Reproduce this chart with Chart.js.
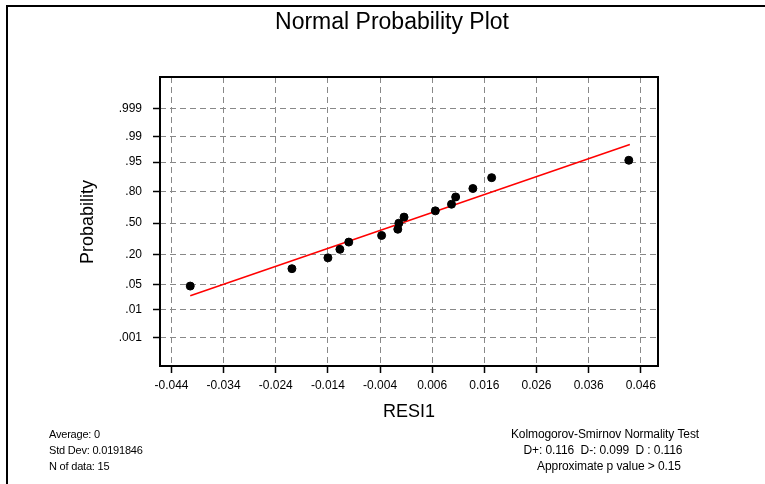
<!DOCTYPE html>
<html>
<head>
<meta charset="utf-8">
<script src="https://cdn.jsdelivr.net/npm/chart.js@4"></script>
<style>
  html, body { margin: 0; padding: 0; background: #fff; }
  canvas { display: block; }
</style>
</head>
<body>
<canvas id="npp" width="765" height="484"></canvas>
<script>
// residuals (RESI1) and their plotted probabilities
const resid = [-0.0404, -0.0209, -0.0140, -0.0117, -0.0100, -0.0037, -0.0006, -0.0004,
               0.0006, 0.0066, 0.0097, 0.0105, 0.0138, 0.0174, 0.0437];
const prob = [0.045, 0.11, 0.175, 0.24, 0.305, 0.37, 0.435, 0.50,
              0.565, 0.63, 0.695, 0.76, 0.825, 0.89, 0.955];

// fitted line end points
const fitX = [-0.0404, 0.0439];
const fitProb = [0.0252, 0.983];

const probTicks = [0.001, 0.01, 0.05, 0.2, 0.5, 0.8, 0.95, 0.99, 0.999];
const probTickLabels = ['.001', '.01', '.05', '.20', '.50', '.80', '.95', '.99', '.999'];
const xTicks = [-0.044, -0.034, -0.024, -0.014, -0.004, 0.006, 0.016, 0.026, 0.036, 0.046];
const xTickLabels = ['-0.044', '-0.034', '-0.024', '-0.014', '-0.004', '0.006', '0.016', '0.026', '0.036', '0.046'];

const statsLeft = ['Average: 0', 'Std Dev: 0.0191846', 'N of data: 15'];
const statsRight = ['Kolmogorov-Smirnov Normality Test', 'D+: 0.116  D-: 0.099  D : 0.116', 'Approximate p value > 0.15'];

// inverse normal cdf (Acklam)
function probit(p) {
  const a = [-39.69683028665376, 220.9460984245205, -275.9285104469687, 138.3577518672690, -30.66479806614716, 2.506628277459239];
  const b = [-54.47609879822406, 161.5858368580409, -155.6989798598866, 66.80131188771972, -13.28068155288572];
  const c = [-0.007784894002430293, -0.3223964580411365, -2.400758277161838, -2.549732539343734, 4.374664141464968, 2.938163982698783];
  const d = [0.007784695709041462, 0.3224671290700398, 2.445134137142996, 3.754408661907416];
  const pl = 0.02425;
  let q, r;
  if (p < pl) {
    q = Math.sqrt(-2 * Math.log(p));
    return (((((c[0]*q+c[1])*q+c[2])*q+c[3])*q+c[4])*q+c[5]) / ((((d[0]*q+d[1])*q+d[2])*q+d[3])*q+1);
  }
  if (p > 1 - pl) {
    q = Math.sqrt(-2 * Math.log(1 - p));
    return -(((((c[0]*q+c[1])*q+c[2])*q+c[3])*q+c[4])*q+c[5]) / ((((d[0]*q+d[1])*q+d[2])*q+d[3])*q+1);
  }
  q = p - 0.5;
  r = q * q;
  return (((((a[0]*r+a[1])*r+a[2])*r+a[3])*r+a[4])*r+a[5])*q / (((((b[0]*r+b[1])*r+b[2])*r+b[3])*r+b[4])*r+1);
}

const FONT = '"Liberation Sans", Arial, sans-serif';
const gridColor = '#888888';

const decorations = {
  id: 'decorations',
  afterDraw(chart) {
    const ctx = chart.ctx;
    const a = chart.chartArea;
    ctx.save();
    // outer border (top & left)
    ctx.fillStyle = '#000';
    ctx.fillRect(6, 5, 759, 2);
    ctx.fillRect(6, 5, 2, 479);
    // plot frame
    ctx.strokeStyle = '#000';
    ctx.lineWidth = 2;
    ctx.strokeRect(a.left, a.top, a.right - a.left, a.bottom - a.top);

    ctx.fillStyle = '#000';
    ctx.textAlign = 'center';
    ctx.textBaseline = 'middle';
    ctx.font = '23px ' + FONT;
    ctx.fillText('Normal Probability Plot', 392, 23);

    ctx.font = '18px ' + FONT;
    ctx.fillText('RESI1', 409, 412);
    ctx.save();
    ctx.translate(88, 222);
    ctx.rotate(-Math.PI / 2);
    ctx.fillText('Probability', 0, 0);
    ctx.restore();

    ctx.font = '11px ' + FONT;
    ctx.letterSpacing = '-0.2px';
    ctx.textAlign = 'left';
    statsLeft.forEach((t, i) => ctx.fillText(t, 49, 435 + i * 16));
    ctx.font = '12px ' + FONT;
    ctx.letterSpacing = '-0.1px';
    ctx.textAlign = 'center';
    [605, 603, 609].forEach((cx, i) => ctx.fillText(statsRight[i], cx, 435 + i * 16));
    ctx.restore();
  }
};

const gridOpts = {
  color: gridColor,
  lineWidth: 1,
  drawTicks: true,
  tickLength: 7,
  tickColor: '#000',
  tickWidth: 1.5,
  tickBorderDash: []
};

new Chart(document.getElementById('npp'), {
  type: 'scatter',
  data: {
    datasets: [
      {
        label: 'RESI1',
        data: resid.map((x, i) => ({ x, y: probit(prob[i]) })),
        backgroundColor: '#000',
        borderColor: '#000',
        pointRadius: 4,
        pointHoverRadius: 4,
        order: 1
      },
      {
        label: 'fit',
        type: 'line',
        data: fitX.map((x, i) => ({ x, y: probit(fitProb[i]) })),
        borderColor: '#ff0000',
        borderWidth: 1.5,
        pointRadius: 0,
        fill: false,
        order: 2
      }
    ]
  },
  options: {
    responsive: false,
    animation: false,
    events: [],
    layout: { padding: { left: 0, top: 77, right: 107, bottom: 0 } },
    plugins: { legend: { display: false }, tooltip: { enabled: false }, title: { display: false } },
    scales: {
      x: {
        type: 'linear',
        min: -0.0462,
        max: 0.0493,
        afterFit(s) { s.height = 118; },
        afterBuildTicks(s) { s.ticks = xTicks.map(v => ({ value: v })); },
        border: { display: false, dash: [6, 4] },
        grid: gridOpts,
        ticks: {
          color: '#000',
          font: { family: FONT, size: 12 },
          padding: 5,
          maxRotation: 0,
          autoSkip: false,
          callback: (v, i) => xTickLabels[i]
        }
      },
      y: {
        type: 'linear',
        min: -3.85,
        max: 3.94,
        afterFit(s) { s.width = 160; },
        afterBuildTicks(s) { s.ticks = probTicks.map(p => ({ value: probit(p) })); },
        border: { display: false, dash: [6, 4] },
        grid: gridOpts,
        ticks: {
          color: '#000',
          font: { family: FONT, size: 12 },
          padding: 11,
          autoSkip: false,
          callback: (v, i) => probTickLabels[i]
        }
      }
    }
  },
  plugins: [decorations]
});
</script>
</body>
</html>
